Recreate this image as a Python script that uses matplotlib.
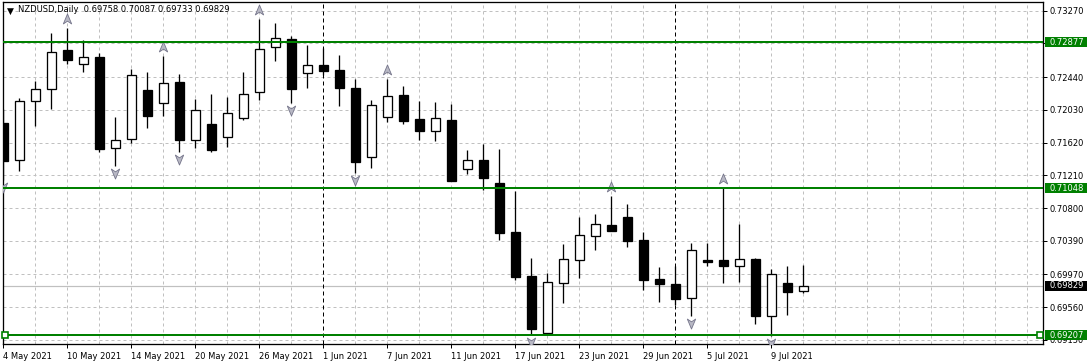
import matplotlib
matplotlib.use("Agg")
import matplotlib.pyplot as plt
from matplotlib.patches import Rectangle
from matplotlib.path import Path
from matplotlib.transforms import blended_transform_factory

# NZDUSD daily bars, 4 May 2021 .. 13 Jul 2021
opens = [0.71862, 0.71399, 0.72137, 0.72287, 0.72775, 0.72600, 0.72687, 0.71549, 0.71661, 0.72278,
         0.72112, 0.72374, 0.71649, 0.71853, 0.71687, 0.71932, 0.72249, 0.72812, 0.72912, 0.72487,
         0.72587, 0.72525, 0.72299, 0.71436, 0.71944, 0.72216, 0.71915, 0.71769, 0.71903, 0.71294,
         0.71403, 0.71111, 0.70502, 0.69952, 0.69242, 0.69868, 0.70155, 0.70456, 0.70590, 0.70690,
         0.70398, 0.69914, 0.69852, 0.69673, 0.70155, 0.70152, 0.70080, 0.70164, 0.69448, 0.69864, 0.69758]
highs = [0.72040, 0.72174, 0.72394, 0.72991, 0.73054, 0.72900, 0.72741, 0.71940, 0.72541, 0.72503,
         0.72703, 0.72478, 0.72166, 0.72228, 0.72191, 0.72503, 0.73166, 0.73116, 0.72950, 0.72845,
         0.72803, 0.72716, 0.72416, 0.72153, 0.72416, 0.72328, 0.72140, 0.72128, 0.72103, 0.71528,
         0.71603, 0.71540, 0.71019, 0.70177, 0.69993, 0.70352, 0.70690, 0.70727, 0.70956, 0.70852,
         0.70502, 0.70064, 0.70080, 0.70368, 0.70368, 0.71049, 0.70602, 0.70181, 0.70039, 0.70077, 0.70087]
lows = [0.71152, 0.71269, 0.71832, 0.72040, 0.72600, 0.72507, 0.71499, 0.71331, 0.71611, 0.71807,
        0.71957, 0.71506, 0.71556, 0.71506, 0.71565, 0.71907, 0.72157, 0.72645, 0.72119, 0.72307,
        0.72462, 0.72078, 0.71244, 0.71306, 0.71878, 0.71857, 0.71653, 0.71644, 0.71135, 0.71227,
        0.71027, 0.70402, 0.69902, 0.69210, 0.69232, 0.69614, 0.69923, 0.70277, 0.70514, 0.70318,
        0.69777, 0.69630, 0.69593, 0.69455, 0.70077, 0.69868, 0.69880, 0.69343, 0.69205, 0.69467, 0.69733]
closes = [0.71394, 0.72140, 0.72287, 0.72750, 0.72657, 0.72687, 0.71544, 0.71649, 0.72462, 0.71957,
          0.72362, 0.71656, 0.72024, 0.71531, 0.71987, 0.72224, 0.72787, 0.72925, 0.72294, 0.72591,
          0.72520, 0.72307, 0.71381, 0.72087, 0.72199, 0.71894, 0.71769, 0.71924, 0.71140, 0.71399,
          0.71171, 0.70493, 0.69939, 0.69289, 0.69873, 0.70160, 0.70461, 0.70598, 0.70518, 0.70389,
          0.69905, 0.69855, 0.69668, 0.70273, 0.70131, 0.70080, 0.70164, 0.69455, 0.69973, 0.69755, 0.69829]

date_tick_bars = [0, 4, 8, 12, 16, 20, 24, 28, 32, 36, 40, 44, 48]
date_tick_labels = ["4 May 2021", "10 May 2021", "14 May 2021", "20 May 2021", "26 May 2021",
                    "1 Jun 2021", "7 Jun 2021", "11 Jun 2021", "17 Jun 2021", "23 Jun 2021",
                    "29 Jun 2021", "5 Jul 2021", "9 Jul 2021"]
price_ticks = [0.73270, 0.72860, 0.72440, 0.72030, 0.71620, 0.71210,
               0.70800, 0.70390, 0.69970, 0.69560, 0.69150]
levels = [0.72877, 0.71048, 0.69207]
month_separators = [20, 42]   # 1 Jun, 1 Jul
fractal_up = [4, 10, 16, 24, 38, 45]
fractal_down = [0, 7, 11, 18, 22, 33, 43, 48]

PX = 0.72  # one pixel in points at dpi 100
GREEN = "#008000"
GRID = "#c0c0c0"

fig = plt.figure(figsize=(10.89, 3.64), dpi=100)
ax = fig.add_axes([2.7 / 1089, 20.5 / 364, 1040.6 / 1089, 341.5 / 364])
ax.set_xlim(-0.044, 64.99)
ax.set_ylim(0.69105, 0.73379)

# grid
for p in price_ticks:
    ax.axhline(p, color=GRID, lw=PX, ls=(0, (3, 3)), zorder=1)
for i in range(2, 65, 2):
    if i in month_separators:
        continue
    ax.axvline(i, color=GRID, lw=PX, ls=(0, (3, 3)), zorder=1)
for i in month_separators:
    ax.axvline(i, color="black", lw=PX, ls=(0, (4, 3)), zorder=2)

# bid line
ax.axhline(closes[-1], color=GRID, lw=PX * 1.2, zorder=1.5)

# candles
w = 0.58
for i in range(len(opens)):
    o, h, l, c = opens[i], highs[i], lows[i], closes[i]
    ax.vlines(i, l, h, color="black", lw=PX * 1.3, zorder=3)
    bottom = min(o, c)
    height = max(abs(c - o), 0.00008)
    face = "white" if c >= o else "black"
    ax.add_patch(Rectangle((i - w / 2, bottom), w, height, facecolor=face,
                           edgecolor="black", lw=PX * 1.3, zorder=4))

# fractal arrows
up_path = Path([(0, 1), (0.75, -0.8), (0, -0.3), (-0.75, -0.8), (0, 1)],
               [Path.MOVETO, Path.LINETO, Path.LINETO, Path.LINETO, Path.CLOSEPOLY])
down_path = Path([(0, -1), (0.75, 0.8), (0, 0.3), (-0.75, 0.8), (0, -1)],
                 [Path.MOVETO, Path.LINETO, Path.LINETO, Path.LINETO, Path.CLOSEPOLY])
ax.plot(fractal_up, [highs[i] + 0.00112 for i in fractal_up], ls="none", marker=up_path,
        ms=8, mfc="#b8b8c4", mec="#74748a", mew=0.6, zorder=5, clip_on=True)
ax.plot(fractal_down, [lows[i] - 0.00088 for i in fractal_down], ls="none", marker=down_path,
        ms=8, mfc="#b8b8c4", mec="#74748a", mew=0.6, zorder=5, clip_on=True)

# horizontal levels
for p in levels:
    ax.axhline(p, color=GREEN, lw=2 * PX, zorder=6)
ax.plot([0.1, 64.8], [levels[-1], levels[-1]], ls="none", marker="s", ms=4,
        mfc="white", mec=GREEN, mew=1.2, zorder=7, clip_on=False)

# axes styling
for s in ax.spines.values():
    s.set_linewidth(PX * 1.3)
    s.set_color("black")
ax.yaxis.tick_right()
ax.set_yticks(price_ticks)
ax.set_yticklabels([f"{p:.5f}" for p in price_ticks])
ax.set_xticks(date_tick_bars)
ax.set_xticklabels(date_tick_labels)
for lab in ax.get_xticklabels():
    lab.set_horizontalalignment("left")
ax.tick_params(axis="both", labelsize=6, length=3, width=PX, color="black",
               labelcolor="black", pad=1.5)
ax.tick_params(axis="x", pad=3)

# price boxes on the right scale
trans = blended_transform_factory(ax.transAxes, ax.transData)
box_h = 0.00125
for p, col in [(levels[0], GREEN), (levels[1], GREEN), (levels[2], GREEN), (closes[-1], "black")]:
    ax.add_patch(Rectangle((1.0012, p - box_h / 2), 0.0405, box_h, transform=trans,
                           facecolor=col, edgecolor="none", clip_on=False, zorder=10))
    ax.text(1.0058, p, f"{p:.5f}", transform=trans, ha="left", va="center",
            fontsize=6, color="white", zorder=11, clip_on=False)

# header
fig.text(6.5 / 1089, 1 - 11 / 364, "\u25bc", fontsize=6.5, ha="left", va="center", color="black")
fig.text(18 / 1089, 1 - 10 / 364,
         f"NZDUSD,Daily  {opens[-1]:.5f} {highs[-1]:.5f} {lows[-1]:.5f} {closes[-1]:.5f}",
         fontsize=6, ha="left", va="center", color="black")

fig.savefig("out.png", dpi=100, facecolor="white")
